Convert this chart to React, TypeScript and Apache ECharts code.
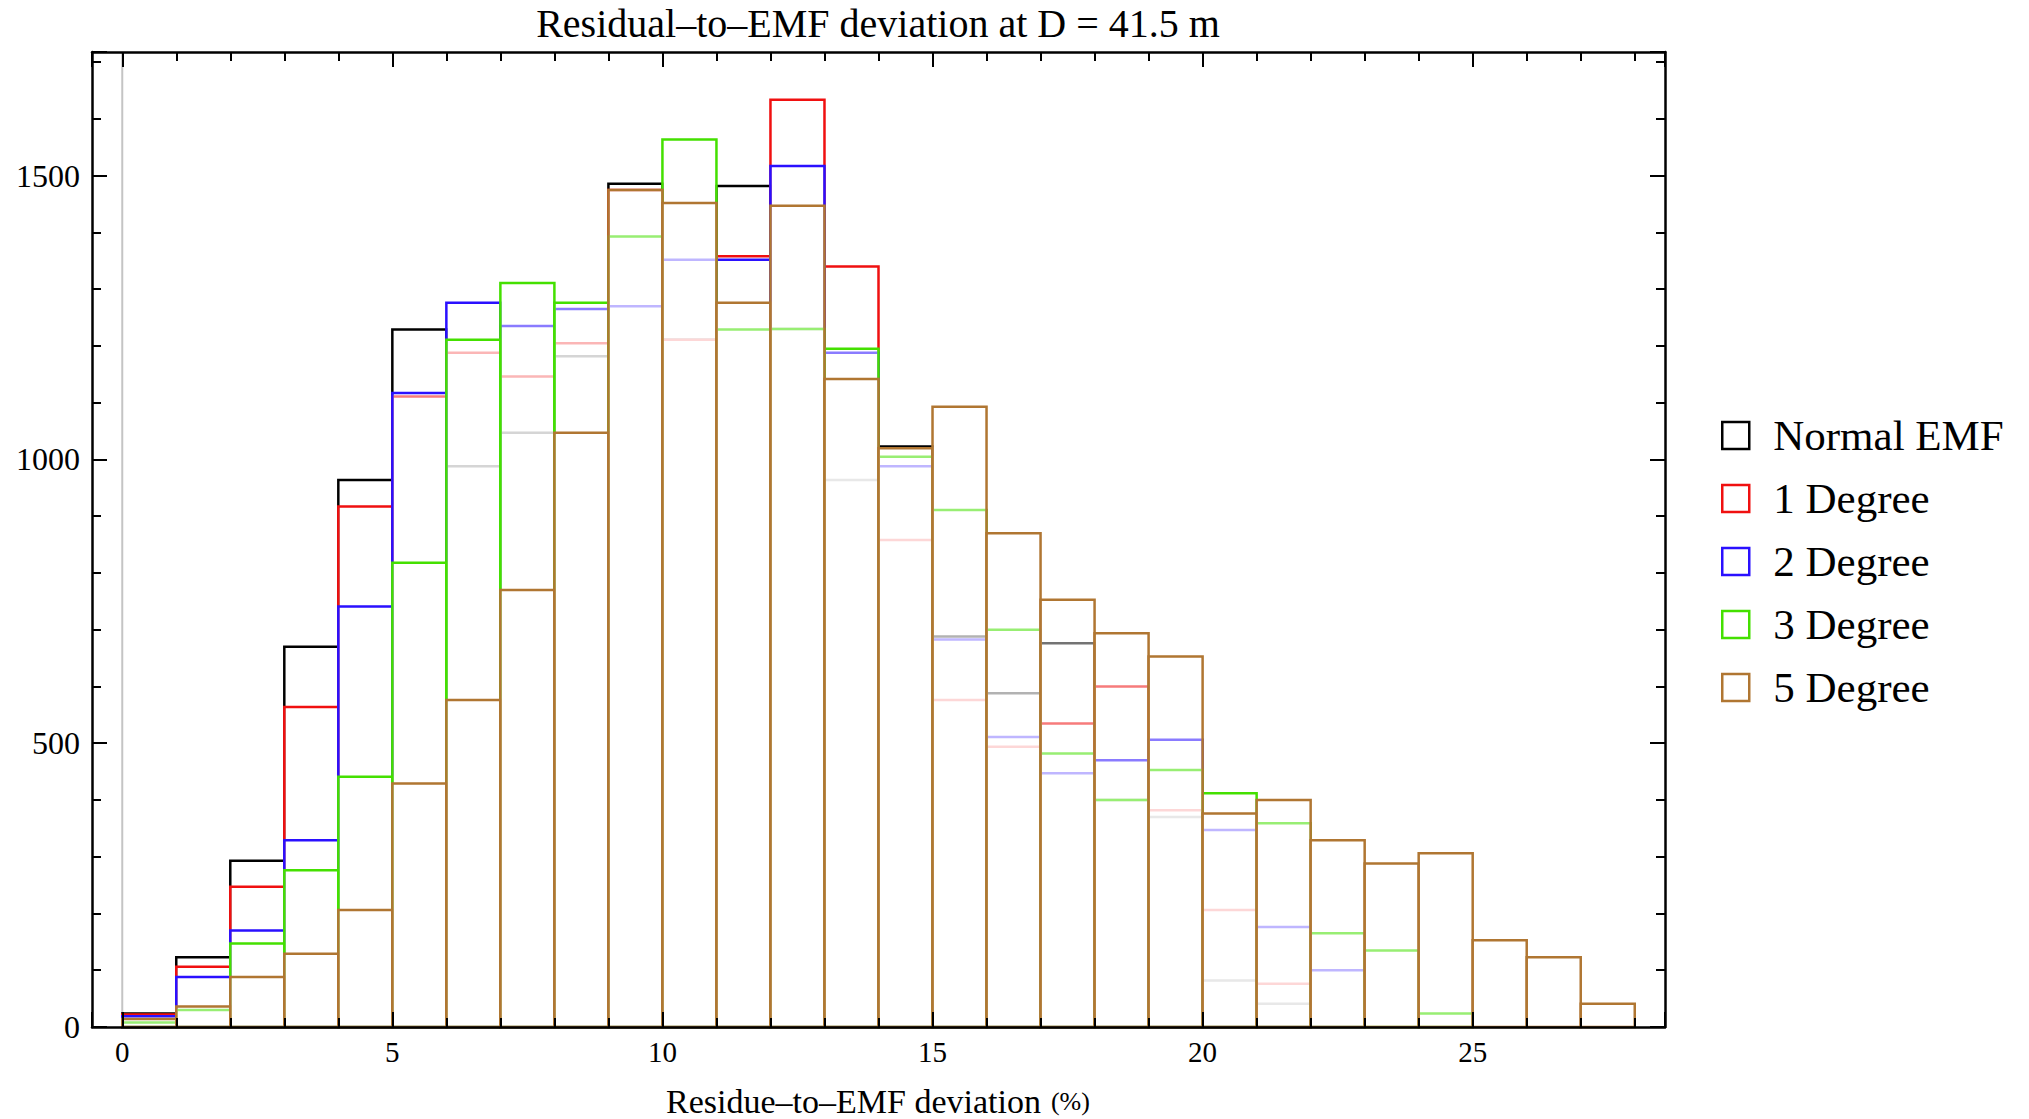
import React, { useEffect, useRef } from 'react';
import * as echarts from 'echarts';

// Histogram bins: each bin spans [start, start + BIN_WIDTH)
const BIN_WIDTH = 1;
const binStarts = [0, 1, 2, 3, 4, 5, 6, 7, 8, 9, 10, 11, 12, 13, 14, 15, 16, 17, 18, 19, 20, 21, 22, 23, 24, 25, 26, 27];

// Counts per bin for each data set
const normalEMF = [24, 123, 293, 670, 964, 1229, 988, 1047, 1182, 1486, 1211, 1482, 1230, 964, 1023, 688, 588, 676, 400, 370, 82, 41, 0, 0, 0, 0, 0, 0];
const degree1 = [22, 106, 247, 564, 917, 1111, 1188, 1146, 1205, 1475, 1211, 1358, 1634, 1340, 858, 576, 494, 535, 600, 382, 206, 76, 0, 0, 0, 0, 0, 0];
const degree2 = [19, 88, 170, 329, 741, 1117, 1276, 1235, 1265, 1270, 1352, 1352, 1517, 1188, 988, 683, 511, 447, 470, 506, 347, 176, 100, 0, 0, 0, 0, 0];
const degree3 = [8, 30, 147, 276, 441, 818, 1211, 1311, 1276, 1393, 1564, 1229, 1230, 1195, 1005, 911, 700, 482, 400, 453, 412, 359, 165, 135, 24, 0, 0, 0];
const degree5 = [14, 36, 88, 129, 206, 429, 576, 770, 1047, 1475, 1452, 1276, 1447, 1142, 1020, 1093, 870, 753, 694, 653, 376, 400, 329, 288, 306, 153, 123, 41];

const seriesNames = ['Normal EMF', '1 Degree', '2 Degree', '3 Degree', '5 Degree'];
const seriesValues = [normalEMF, degree1, degree2, degree3, degree5];
const seriesColors = ['#000000', '#f01010', '#2a10ff', '#44e000', '#b07632'];

const xTickLabels = ['0', '5', '10', '15', '20', '25'];
const yTickLabels = ['0', '500', '1000', '1500'];

const TITLE = 'Residual–to–EMF deviation at D = 41.5 m';
const X_NAME = 'Residue–to–EMF deviation';
const X_UNIT = '(%)';

// Plot range (with the frame padding around the data)
const X_MIN = -0.56;
const X_MAX = 28.56;
const Y_MIN = 0;
const Y_MAX = 1718;

const SERIF = '"Liberation Serif", "Times New Roman", serif';

const frameLine = { show: true, onZero: false, lineStyle: { color: '#000', width: 2.5 } };
const majorTick = { show: true, inside: true, length: 15, lineStyle: { color: '#000', width: 2 } };
const minorTick = { show: true, splitNumber: 5, length: 9, lineStyle: { color: '#000', width: 2 } };

function makeXAxis(position: 'bottom' | 'top') {
  return {
    type: 'value',
    position,
    min: X_MIN,
    max: X_MAX,
    minInterval: 5,
    maxInterval: 5,
    z: 10,
    axisLine: frameLine,
    axisTick: majorTick,
    minorTick,
    splitLine: { show: false },
    minorSplitLine: { show: false },
    axisLabel: {
      show: position === 'bottom',
      margin: 10,
      color: '#000',
      fontFamily: SERIF,
      fontSize: 29,
      formatter: (v: number) => (xTickLabels.includes(String(v)) ? String(v) : ''),
    },
  };
}

function makeYAxis(position: 'left' | 'right') {
  return {
    type: 'value',
    position,
    min: Y_MIN,
    max: Y_MAX,
    minInterval: 500,
    maxInterval: 500,
    z: 10,
    axisLine: frameLine,
    axisTick: majorTick,
    minorTick,
    splitLine: { show: false },
    minorSplitLine: { show: false },
    axisLabel: {
      show: position === 'left',
      margin: 12,
      color: '#000',
      fontFamily: SERIF,
      fontSize: 32,
      formatter: (v: number) => (yTickLabels.includes(String(v)) ? String(v) : ''),
    },
  };
}

export default function App() {
  const ref = useRef<HTMLDivElement>(null);

  useEffect(() => {
    if (!ref.current) return;
    const chart = echarts.init(ref.current, null, { renderer: 'svg' });

    const barSeries = seriesNames.map((name, k) => ({
      type: 'custom',
      name,
      xAxisIndex: 0,
      yAxisIndex: 0,
      encode: { x: 0, y: 1 },
      data: seriesValues[k].map((v, i) => [binStarts[i], v]),
      itemStyle: { color: '#fff', borderColor: seriesColors[k], borderWidth: 2.5 },
      renderItem: (_params: any, api: any) => {
        const start = api.value(0);
        const count = api.value(1);
        if (!(count > 0)) return null;
        const topLeft = api.coord([start, count]);
        const bottomRight = api.coord([start + BIN_WIDTH, 0]);
        return {
          type: 'rect',
          shape: {
            x: topLeft[0],
            y: topLeft[1],
            width: bottomRight[0] - topLeft[0],
            height: bottomRight[1] - topLeft[1],
          },
          style: {
            fill: 'rgba(255,255,255,0.45)',
            stroke: seriesColors[k],
            lineWidth: 2.5,
          },
        };
      },
    }));

    chart.setOption({
      animation: false,
      backgroundColor: '#ffffff',
      grid: { left: 92, right: 364, top: 52, bottom: 92, containLabel: false },
      xAxis: [makeXAxis('bottom'), makeXAxis('top')],
      yAxis: [makeYAxis('left'), makeYAxis('right')],
      legend: {
        orient: 'vertical',
        left: 1716,
        top: 409,
        itemWidth: 27,
        itemHeight: 27,
        itemGap: 20,
        icon: 'rect',
        selectedMode: false,
        data: seriesNames.map((n, k) => ({
          name: n,
          itemStyle: { color: '#fff', borderColor: seriesColors[k], borderWidth: 2.5 },
        })),
        textStyle: {
          fontFamily: SERIF,
          fontSize: 43,
          lineHeight: 43,
          color: '#000',
          padding: [0, 0, 0, 19],
        },
      },
      graphic: [
        {
          type: 'text',
          x: 878,
          y: 23,
          style: {
            text: TITLE,
            font: `40px ${SERIF}`,
            fill: '#000',
            align: 'center',
            verticalAlign: 'middle',
            textAlign: 'center',
            textVerticalAlign: 'middle',
          },
        },
        {
          type: 'text',
          x: 878,
          y: 1101,
          style: {
            text: `{a|${X_NAME}}{s| }{b|${X_UNIT}}`,
            align: 'center',
            verticalAlign: 'middle',
            textAlign: 'center',
            textVerticalAlign: 'middle',
            rich: {
              a: { fontFamily: SERIF, fontSize: 34, fill: '#000', color: '#000' },
              s: { fontFamily: SERIF, fontSize: 34, width: 10 },
              b: { fontFamily: SERIF, fontSize: 26, fill: '#000', color: '#000' },
            },
          },
        },
      ],
      series: [
        {
          type: 'line',
          name: 'origin',
          xAxisIndex: 0,
          yAxisIndex: 0,
          data: [[0, Y_MIN], [0, Y_MAX]],
          symbol: 'none',
          silent: true,
          z: 1,
          lineStyle: { color: '#c4c4c4', width: 2 },
        },
        ...barSeries,
      ],
    });

    return () => chart.dispose();
  }, []);

  return (
    <div
      ref={ref}
      style={{ position: 'fixed', left: 0, top: 0, width: 2029, height: 1119, background: '#fff' }}
    />
  );
}
